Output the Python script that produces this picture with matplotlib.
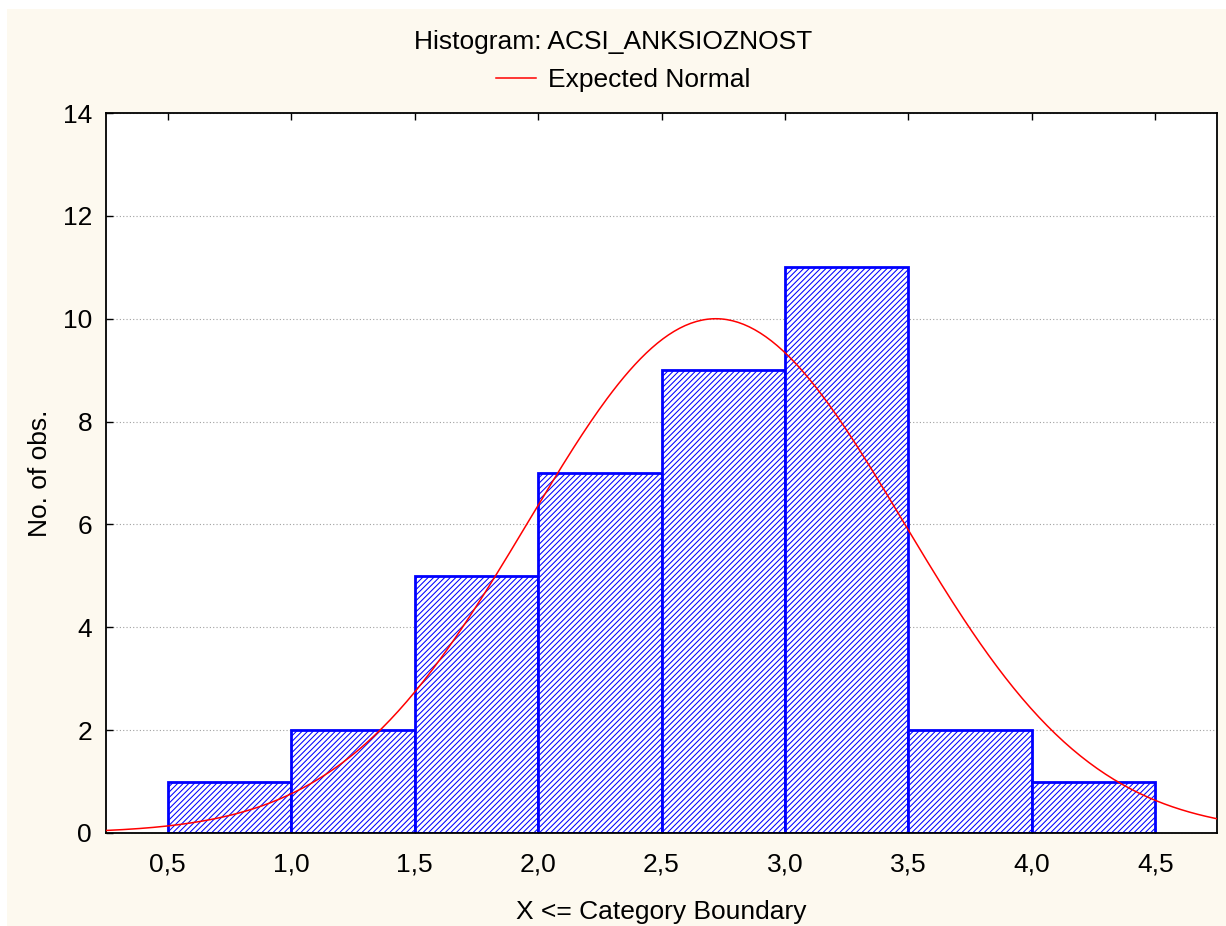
import numpy as np
import matplotlib.pyplot as plt
from matplotlib.patches import Rectangle

plt.rcParams['font.family'] = ['Liberation Sans', 'DejaVu Sans']
plt.rcParams['hatch.color'] = '#2020ff'
plt.rcParams['hatch.linewidth'] = 0.75

FONT_SIZE = 19
CREAM = '#fdf9ef'

# histogram data
bin_edges = [0.5, 1.0, 1.5, 2.0, 2.5, 3.0, 3.5, 4.0, 4.5]
counts = [1, 2, 5, 7, 9, 11, 2, 1]
x_ticks = [0.5, 1.0, 1.5, 2.0, 2.5, 3.0, 3.5, 4.0, 4.5]
x_tick_labels = ["0,5", "1,0", "1,5", "2,0", "2,5", "3,0", "3,5", "4,0", "4,5"]
y_ticks = [0, 2, 4, 6, 8, 10, 12, 14]

# expected normal fit parameters
mean_val = 2.72
sd_val = 0.758

fig = plt.figure(figsize=(12.26, 9.26), dpi=100, facecolor='white')
fig.patches.append(Rectangle((7 / 1226, 0), 1 - 7 / 1226, 1 - 9 / 926,
                             transform=fig.transFigure, facecolor=CREAM,
                             edgecolor='none', zorder=-10))
ax = fig.add_axes([106 / 1226, 1 - 833 / 926, (1217 - 106) / 1226, (833 - 113) / 926])
ax.set_facecolor('white')

widths = np.diff(bin_edges)
ax.bar(bin_edges[:-1], counts, width=widths, align='edge', color='white',
       edgecolor='#0000ff', linewidth=2.0, hatch='//////', zorder=2)

n_total = sum(counts)
bw = widths[0]
xs = np.linspace(0.25, 4.75, 400)
ys = n_total * bw / (sd_val * np.sqrt(2 * np.pi)) * np.exp(-0.5 * ((xs - mean_val) / sd_val) ** 2)
ax.plot(xs, ys, color='#ff0000', linewidth=1.1, zorder=3, label="Expected Normal")

ax.set_xlim(0.25, 4.75)
ax.set_ylim(0, 14)
ax.set_xticks(x_ticks)
ax.set_xticklabels(x_tick_labels)
ax.set_yticks(y_ticks)
ax.yaxis.grid(True, linestyle=(0, (1, 2)), color='#a0a0a0', linewidth=0.8, zorder=0)
ax.set_axisbelow(True)

ax.tick_params(axis='both', direction='in', length=5, width=1, labelsize=FONT_SIZE,
               top=True, pad=14)
ax.tick_params(axis='y', pad=10)
for s in ax.spines.values():
    s.set_linewidth(1.3)
    s.set_color('black')

ax.set_xlabel("X <= Category Boundary", fontsize=FONT_SIZE, labelpad=17)
ax.set_ylabel("No. of obs.", fontsize=FONT_SIZE, labelpad=8)

fig.text(0.5, 1 - 42 / 926, "Histogram: ACSI_ANKSIOZNOST", ha='center', va='center',
         fontsize=FONT_SIZE)
leg = fig.legend(loc='center', bbox_to_anchor=(623 / 1226, 1 - 80 / 926), frameon=False,
                 fontsize=FONT_SIZE, handlelength=1.5, handletextpad=0.45)

plt.savefig("out.png", dpi=100, facecolor=fig.get_facecolor())
